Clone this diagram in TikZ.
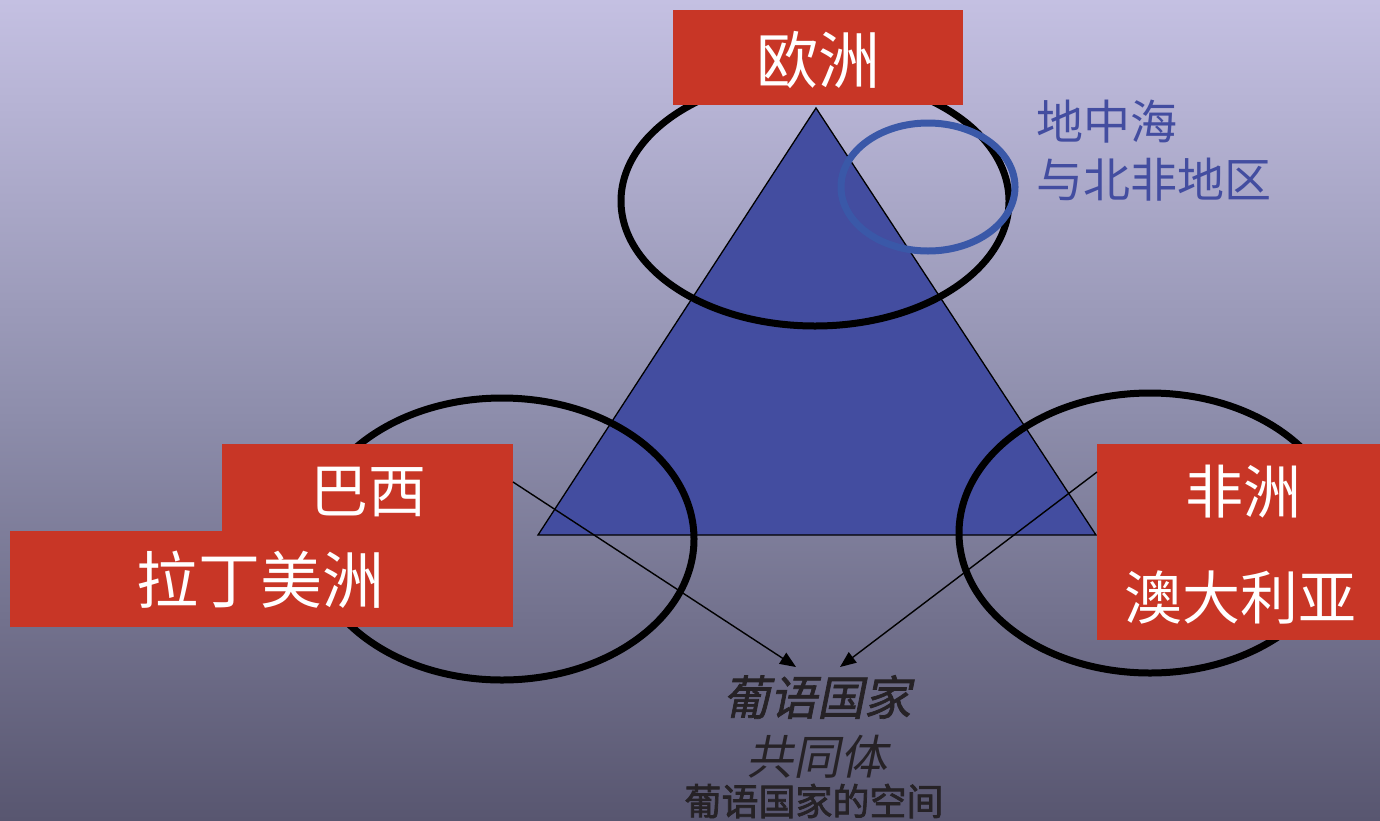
\documentclass[tikz,border=0pt]{standalone}
\usepackage{fontspec}
\newfontfamily\cjk{Noto Sans CJK SC}
\newfontfamily\cjkit[FakeSlant=0.2,FakeBold=1.5]{Noto Sans CJK SC}
\newfontfamily\cjkitl[FakeSlant=0.2]{Noto Sans CJK SC}
\newfontfamily\cjkb[FakeBold=2]{Noto Sans CJK SC}
\usetikzlibrary{arrows.meta}
\definecolor{bgtop}{RGB}{196,192,226}
\definecolor{bgmid}{RGB}{142,142,172}
\definecolor{bgbot}{RGB}{88,86,112}
\definecolor{tri}{RGB}{67,77,160}
\definecolor{redbox}{RGB}{200,54,38}
\definecolor{ringblue}{RGB}{58,88,168}
\definecolor{darktext}{RGB}{38,34,38}
\tikzset{
  redfill/.style={fill=redbox, draw=none},
  ring/.style={draw=black, line width=7pt},
  whitelabel/.style={text=white, font=\cjk\fontsize{58}{64}\selectfont, inner sep=0pt},
  arrowline/.style={draw=black, line width=1.4pt, -{Triangle[length=16pt,width=13pt]}}
}
\begin{document}
\begin{tikzpicture}[x=1pt,y=-1pt]
\useasboundingbox (0,0) rectangle (1380,820);
\shade[top color=bgtop, bottom color=bgbot, middle color=bgmid] (0,0) rectangle (1380,820);
% triangle
\coordinate (apex) at (816,108);
\coordinate (bl) at (538,535);
\coordinate (br) at (1096,535);
\draw[fill=tri, draw=black, line width=1.3pt] (apex) -- (bl) -- (br) -- cycle;
% rings
\draw[ring] (815,201) ellipse [x radius=194, y radius=125];
\draw[ring] (502,539) ellipse [x radius=192, y radius=141];
\draw[ring] (1150,533) ellipse [x radius=191, y radius=140];
\draw[draw=ringblue, line width=7pt] (928,187) ellipse [x radius=87, y radius=64];
% red boxes
\fill[redfill] (673,10) rectangle (963,105);
\fill[redfill] (222,444) rectangle (513,531);
\fill[redfill] (10,531) rectangle (513,627);
\fill[redfill] (1097,444) rectangle (1380,640);
% labels
\node[whitelabel, font=\cjk\fontsize{62}{66}\selectfont] (europe) at (818,60) {欧洲};
\node[whitelabel] (brazil) at (368,492) {巴西};
\node[whitelabel, font=\cjk\fontsize{62}{66}\selectfont] (latam) at (260,580) {拉丁美洲};
\node[whitelabel] (africa) at (1243,492) {非洲};
\node[whitelabel] (aus) at (1240,597) {澳大利亚};
\node[text=tri, font=\cjk\fontsize{47}{58}\selectfont, align=left, anchor=north west, inner sep=0pt] (med) at (1036,100) {地中海\\与北非地区};
\node[text=darktext, font=\cjkit\fontsize{47}{50}\selectfont, inner sep=0pt] (cplp) at (817,697) {葡语国家};
\node[text=darktext, font=\cjkitl\fontsize{47}{50}\selectfont, inner sep=0pt] (cplp2) at (817,757) {共同体};
\node[text=darktext, font=\cjkb\fontsize{37}{40}\selectfont, inner sep=0pt] (space) at (814,801) {葡语国家的空间};
% arrows
\coordinate (s1) at (513,482);
\coordinate (e1) at (796,667);
\coordinate (s2) at (1097,472);
\coordinate (e2) at (840,667);
\draw[arrowline] (s1) -- (e1);
\draw[arrowline] (s2) -- (e2);
\end{tikzpicture}
\end{document}
